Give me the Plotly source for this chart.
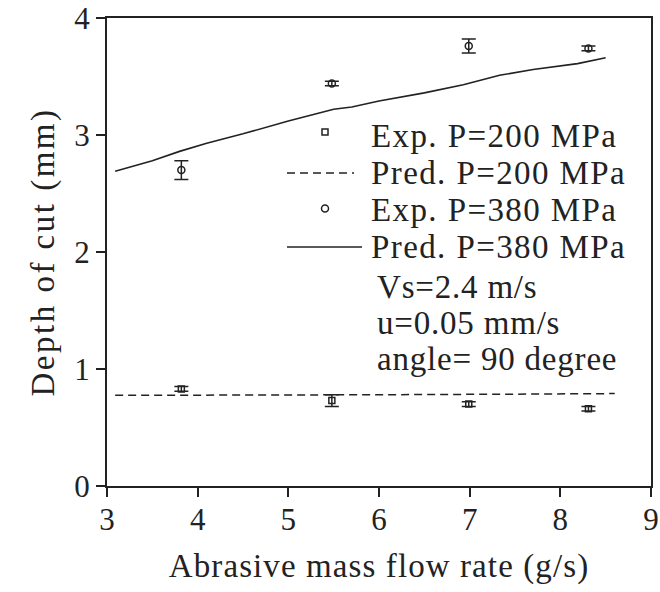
import plotly.graph_objects as go

# ---- data ----
x_exp = [3.82, 5.48, 6.99, 8.31]
exp200 = [0.83, 0.73, 0.70, 0.66]
exp200_err = [0.02, 0.05, 0.02, 0.02]
exp380 = [2.70, 3.44, 3.76, 3.74]
exp380_err = [0.08, 0.02, 0.06, 0.02]

x_pred200 = [3.09, 4.5, 6.0, 7.5, 8.6]
pred200 = [0.775, 0.776, 0.78, 0.785, 0.79]

x_pred380 = [3.09, 3.5, 3.8, 4.1, 4.5, 5.0, 5.5, 5.7, 6.0, 6.5, 6.93, 7.33, 7.7, 8.19, 8.5]
pred380 = [2.69, 2.78, 2.86, 2.93, 3.01, 3.12, 3.22, 3.24, 3.29, 3.36, 3.43, 3.51, 3.56, 3.61, 3.66]

x_ticks = [3, 4, 5, 6, 7, 8, 9]
y_ticks = [0, 1, 2, 3, 4]

legend_labels = ["Exp. P=200 MPa", "Pred. P=200 MPa", "Exp. P=380 MPa", "Pred. P=380 MPa"]
param_labels = ["Vs=2.4 m/s", "u=0.05 mm/s", "angle= 90 degree"]

FONT = "Liberation Serif, Times New Roman, serif"
INK = "#222222"

W, H = 660, 592
# plot area in page pixels
L, R, T, B = 107, 651, 18, 486


def px(xp):
    return (xp - L) / (R - L)


def py(yp):
    return (B - yp) / (B - T)


def sp(t, ls=1.0):
    return f'<span style="letter-spacing:{ls}px">{t}</span>'


fig = go.Figure()

fig.add_trace(go.Scatter(
    x=x_pred200, y=pred200, mode="lines", name=legend_labels[1],
    line=dict(color=INK, width=1.5, dash="8px,5px"), showlegend=False))
fig.add_trace(go.Scatter(
    x=x_pred380, y=pred380, mode="lines", name=legend_labels[3],
    line=dict(color=INK, width=1.6), showlegend=False))
fig.add_trace(go.Scatter(
    x=x_exp, y=exp200, mode="markers", name=legend_labels[0],
    marker=dict(symbol="square-open", size=6, color=INK, line=dict(width=1.5)),
    error_y=dict(type="data", array=exp200_err, color=INK, thickness=1.5, width=7),
    showlegend=False))
fig.add_trace(go.Scatter(
    x=x_exp, y=exp380, mode="markers", name=legend_labels[2],
    marker=dict(symbol="circle-open", size=7, color=INK, line=dict(width=1.5)),
    error_y=dict(type="data", array=exp380_err, color=INK, thickness=1.5, width=7),
    showlegend=False))

# ---- manual legend (inside plot, like the reference) ----
row_y = [136, 173, 210, 247]
shapes = []
shapes.append(dict(type="rect", xref="paper", yref="paper",
                   x0=px(322), x1=px(328), y0=py(129), y1=py(135),
                   line=dict(color=INK, width=1.5)))
shapes.append(dict(type="line", xref="paper", yref="paper",
                   x0=px(287), x1=px(354), y0=py(row_y[1]), y1=py(row_y[1]),
                   line=dict(color=INK, width=1.5, dash="8px,5px")))
shapes.append(dict(type="circle", xref="paper", yref="paper",
                   x0=px(321.5), x1=px(328.5), y0=py(205), y1=py(212),
                   line=dict(color=INK, width=1.5)))
shapes.append(dict(type="line", xref="paper", yref="paper",
                   x0=px(287), x1=px(362), y0=py(row_y[3]), y1=py(row_y[3]),
                   line=dict(color=INK, width=1.6)))

annotations = []
for lab, yy in zip(legend_labels, row_y):
    annotations.append(dict(text=sp(lab, 1.4), xref="paper", yref="paper",
                            x=px(369), y=py(yy), xanchor="left", yanchor="middle",
                            showarrow=False, font=dict(family=FONT, size=33, color=INK)))
for lab, yy in zip(param_labels, [287, 323, 359]):
    annotations.append(dict(text=sp(lab, 0.8), xref="paper", yref="paper",
                            x=px(375), y=py(yy), xanchor="left", yanchor="middle",
                            showarrow=False, font=dict(family=FONT, size=33, color=INK)))

fig.update_layout(
    width=W, height=H,
    margin=dict(l=L, r=W - R, t=T, b=H - B, autoexpand=False),
    paper_bgcolor="white", plot_bgcolor="white",
    font=dict(family=FONT, color=INK),
    shapes=shapes, annotations=annotations,
    showlegend=False,
)

fig.update_xaxes(
    range=[3, 9], tickvals=x_ticks, ticktext=[str(v) for v in x_ticks],
    showgrid=False, zeroline=False, automargin=False,
    showline=True, linecolor=INK, linewidth=2, mirror=True,
    ticks="outside", ticklen=9, tickwidth=1.5, tickcolor=INK,
    tickfont=dict(family=FONT, size=31, color=INK), ticklabelstandoff=-4,
    title=dict(text=sp("Abrasive mass flow rate (g/s)", 1.1),
               font=dict(family=FONT, size=33, color=INK), standoff=18),
)
fig.update_yaxes(
    range=[0, 4], tickvals=y_ticks, ticktext=[str(v) for v in y_ticks],
    showgrid=False, zeroline=False, automargin=False,
    showline=True, linecolor=INK, linewidth=2, mirror=True,
    ticks="outside", ticklen=9, tickwidth=1.5, tickcolor=INK,
    tickfont=dict(family=FONT, size=31, color=INK), ticklabelstandoff=0,
    title=dict(text=sp("Depth of cut (mm)", 2.5),
               font=dict(family=FONT, size=33, color=INK), standoff=10),
)

# remove the browser's default 8px body margin so the figure fills the page
fig.write_html("out.html", config={"displayModeBar": False},
               post_script="document.body.style.margin='0px';")
